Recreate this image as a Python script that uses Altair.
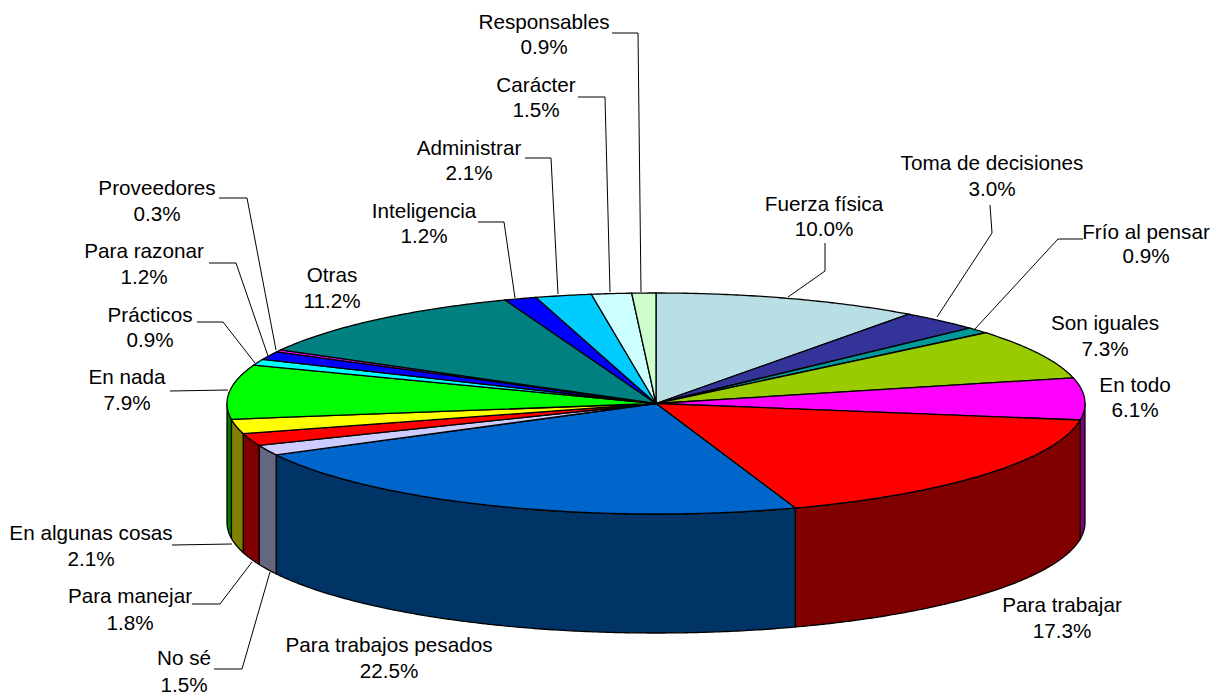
import math
import altair as alt
import pandas as pd

categories = ["Fuerza física", "Toma de decisiones", "Frío al pensar", "Son iguales", "En todo",
              "Para trabajar", "Para trabajos pesados", "No sé", "Para manejar", "En algunas cosas",
              "En nada", "Prácticos", "Para razonar", "Proveedores", "Otras", "Inteligencia",
              "Administrar", "Carácter", "Responsables"]
values = [10.0, 3.0, 0.9, 7.3, 6.1, 17.3, 22.5, 1.5, 1.8, 2.1, 7.9, 0.9, 1.2, 0.3, 11.2, 1.2, 2.1, 1.5, 0.9]
top_colors = ["#B8DFE3", "#333399", "#009999", "#99CC00", "#FF00FF", "#FF0000", "#0066CC", "#CCCCFF",
              "#FF0000", "#FFFF00", "#00FF00", "#00FFFF", "#0000FF", "#FF00FF", "#008080", "#0000FF",
              "#00CCFF", "#CCFFFF", "#CCFFCC"]
side_colors = ["#5C7072", "#1A1A4D", "#004D4D", "#4D6600", "#800080", "#800000", "#003366", "#666680",
               "#800000", "#808000", "#008000", "#008080", "#000080", "#800080", "#004040", "#000080",
               "#006680", "#668080", "#668066"]

# label anchors (page pixels): category -> centre x, first line y, second line y
label_pos = {
    "Fuerza física": (824, 205, 230), "Toma de decisiones": (992, 164, 190), "Frío al pensar": (1146, 233, 257),
    "Son iguales": (1105, 324, 350), "En todo": (1135, 386, 411), "Para trabajar": (1062, 606, 632),
    "Para trabajos pesados": (389, 646, 672), "No sé": (184, 659, 686), "Para manejar": (130, 597, 624),
    "En algunas cosas": (91, 534, 560), "En nada": (127, 378, 404), "Prácticos": (150, 316, 341),
    "Para razonar": (144, 252, 278), "Proveedores": (157, 189, 215), "Otras": (332, 276, 302),
    "Inteligencia": (424, 212, 237), "Administrar": (469, 149, 174), "Carácter": (536, 86, 111),
    "Responsables": (544, 23, 48),
}
# leader polylines (page pixels)
leaders = {
    "Responsables": [(612, 33), (638, 33), (641, 292)],
    "Carácter": [(578, 97), (605, 97), (610, 292)],
    "Administrar": [(525, 158), (551, 158), (558, 294)],
    "Inteligencia": [(478, 222), (504, 222), (515, 298)],
    "Proveedores": [(219, 198), (247, 198), (276, 350)],
    "Para razonar": [(209, 263), (236, 263), (268, 356)],
    "Prácticos": [(197, 322), (223, 322), (255, 363)],
    "En nada": [(170, 391), (228, 390)],
    "En algunas cosas": [(172, 545), (232, 544)],
    "Para manejar": [(192, 604), (220, 604), (252, 562)],
    "No sé": [(214, 669), (242, 669), (270, 572)],
    "Fuerza física": [(825, 243), (825, 271), (788, 297)],
    "Toma de decisiones": [(990, 205), (992, 233), (937, 317)],
    "Frío al pensar": [(1083, 239), (1058, 239), (974, 330)],
}

M = 8
CX, CY, RX, RY, DEPTH = 656 - M, 403.5 - M, 429, 110.5, 119


def pt(deg, dy=0):
    a = math.radians(deg)
    return [round(CX + RX * math.sin(a), 2), round(CY - RY * math.cos(a) + dy, 2)]


def arc(a0, a1):
    n = max(2, int(abs(a1 - a0) / 0.5) + 1)
    return [a0 + (a1 - a0) * i / n for i in range(n + 1)]


def feature(ring, fill):
    return {"type": "Feature", "properties": {"fill": fill},
            "geometry": {"type": "Polygon", "coordinates": [ring + [ring[0]]]}}


total = sum(values)
tops, sides = [], []
c = 0.0
for v, tc, sc in zip(values, top_colors, side_colors):
    a0 = c / total * 360
    c += v
    a1 = c / total * 360
    tops.append(feature([[CX, CY]] + [pt(a) for a in arc(a0, a1)], tc))
    s0, s1 = max(a0, 90), min(a1, 270)
    if s1 > s0:
        angs = arc(s0, s1)
        sides.append(feature([pt(a) for a in angs] + [pt(a, DEPTH) for a in reversed(angs)], sc))

pie_proj = alt.Projection(type="identity", scale=1, translate=[0, 0])
side_layer = alt.Chart(alt.Data(values=sides)).mark_geoshape(stroke="black", strokeWidth=1.3).encode(
    fill=alt.Fill("properties.fill:N", scale=None)).project(**pie_proj.to_dict())
top_layer = alt.Chart(alt.Data(values=tops)).mark_geoshape(stroke="black", strokeWidth=1.3).encode(
    fill=alt.Fill("properties.fill:N", scale=None)).project(**pie_proj.to_dict())

leader_rows = [{"name": k, "i": i, "x": x - M, "y": y - M}
               for k, pts in leaders.items() for i, (x, y) in enumerate(pts)]
leader_layer = alt.Chart(pd.DataFrame(leader_rows)).mark_line(color="black", strokeWidth=1).encode(
    x=alt.X("x:Q", scale=None, axis=None), y=alt.Y("y:Q", scale=None, axis=None),
    detail="name:N", order="i:Q")

text_rows = []
for name, v in zip(categories, values):
    x, y1, y2 = label_pos[name]
    text_rows.append({"t": name, "x": x - M, "y": y1 - M})
    text_rows.append({"t": f"{v:.1f}%", "x": x - M, "y": y2 - M})
text_layer = alt.Chart(pd.DataFrame(text_rows)).mark_text(
    font="Liberation Sans", fontSize=20.7, color="black", align="center", baseline="middle").encode(
    x=alt.X("x:Q", scale=None, axis=None), y=alt.Y("y:Q", scale=None, axis=None), text="t:N")

chart = alt.layer(side_layer, top_layer, leader_layer, text_layer).properties(
    width=1202, height=688, padding=0, background="white",
    autosize=alt.AutoSizeParams(type="none")
).configure_view(stroke=None)

chart.save("out.html", embed_options={"renderer": "svg", "actions": False})
